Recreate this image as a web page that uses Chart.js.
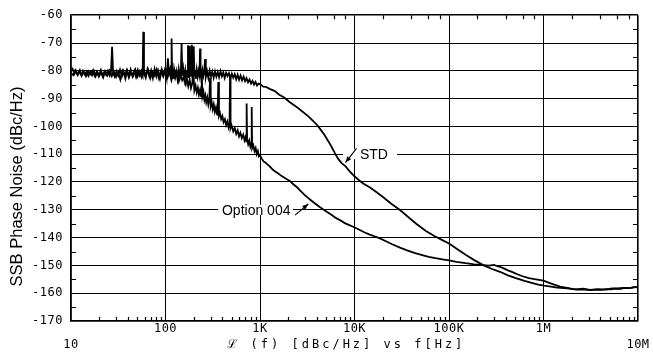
<!DOCTYPE html>
<html><head><meta charset="utf-8">
<script src="https://cdn.jsdelivr.net/npm/chart.js@4/dist/chart.umd.min.js"></script>
<style>html,body{margin:0;padding:0;background:#fff;overflow:hidden}#wrap{width:653px;height:352px;position:relative}</style>
</head><body><div id="wrap"><canvas id="c" width="653" height="352"></canvas></div>
<script>
// ---- tick definitions ----
const xTickValues = [10, 100, 1000, 10000, 100000, 1000000, 10000000];
const xTickLabels = ['10', '100', '1K', '10K', '100K', '1M', '10M'];
const xTickRow    = [2, 1, 1, 1, 1, 1, 2];   // label row under the axis
const yTickMin = -170, yTickMax = -60, yTickStep = 10;

// ---- series: STD ----
const stdFreq = [
  10, 10.4, 10.9, 11.3, 11.8, 12.3, 12.9, 13.4, 14, 14.6,
  15.3, 16, 16.7, 17.4, 18.2, 19, 19.8, 20.7, 21.6, 22.6,
  23.6, 24.6, 25.7, 26.5, 27.2, 27.9, 29, 30.3, 31.6, 33,
  34.5, 36, 37.6, 39.3, 41, 42.8, 44.7, 46.7, 48.8, 51,
  53.2, 55.5, 57.3, 58.2, 59.2, 61.8, 64.5, 67.4, 70.4, 73.5,
  76.7, 80.1, 83.7, 87.4, 91.3, 95.3, 99.5, 103, 106, 109,
  112, 114.5, 116, 117.5, 120, 123, 126.5, 130, 134, 138,
  142, 145.5, 148, 150.5, 154, 158, 162, 166, 169.5, 173,
  175.5, 178.5, 181, 184, 187, 190, 193, 196, 199, 202,
  205, 209, 214, 219, 224, 229, 232, 235, 240, 246,
  252, 257, 262, 267, 275, 284, 293, 303, 313, 323,
  334, 345, 357, 369, 382, 395, 409, 423, 438, 453,
  469, 486, 503, 521, 540, 560, 580, 601, 623, 646,
  670, 695, 720, 747, 775, 804, 834, 865, 897, 930,
  965, 1000, 1080, 1160, 1280, 1420, 1600, 1800, 2070, 2400,
  2870, 3250, 3660, 4000, 4300, 4800, 5300, 5750, 6200, 6700,
  7300, 8000, 8800, 9700, 11000, 12500, 14600, 17000, 20000, 24500,
  30300, 37000, 45000, 57000, 70000, 85000, 100000, 125000, 150000, 185000,
  230000, 285000, 347000, 420000, 520000, 630000, 750000, 880000, 1020000, 1200000,
  1400000, 1780000, 2200000, 2600000, 3100000, 3800000, 4500000, 5300000, 6000000, 7000000,
  8000000, 9000000, 10000000
];
const stdDb = [
  -80.2, -79.3, -81.1, -80.0, -81.5, -80.2, -81.8, -80.0, -81.3, -80.3,
  -81.9, -80.4, -81.6, -79.9, -82.0, -80.5, -81.4, -79.7, -81.8, -80.2,
  -81.5, -80.0, -81.7, -80.4, -71.4, -80.8, -82.1, -80.1, -81.7, -79.6,
  -82.0, -80.2, -82.8, -79.9, -81.6, -79.5, -82.0, -80.1, -82.3, -79.7,
  -81.7, -80.0, -81.5, -66.0, -80.8, -82.5, -79.4, -81.9, -79.8, -82.6,
  -79.3, -82.1, -80.0, -82.8, -79.5, -81.7, -79.2, -82.4, -75.5, -80.9,
  -79.4, -82.0, -68.4, -80.4, -82.9, -79.3, -82.2, -80.1, -83.0, -79.4,
  -82.3, -80.3, -70.0, -81.9, -79.2, -82.7, -79.9, -83.1, -80.2, -70.8,
  -82.6, -79.6, -71.0, -82.1, -80.0, -70.6, -82.8, -79.7, -71.2, -81.6,
  -79.9, -82.9, -79.5, -82.1, -80.0, -81.7, -72.0, -80.4, -82.5, -79.7,
  -81.8, -80.2, -75.8, -82.2, -80.1, -82.6, -79.9, -82.0, -80.3, -82.5,
  -80.2, -82.1, -80.4, -82.3, -80.1, -82.0, -80.6, -82.6, -80.7, -81.9,
  -80.8, -82.7, -81.0, -82.5, -81.2, -83.1, -81.4, -83.2, -81.7, -83.4,
  -82.1, -83.7, -82.6, -84.1, -83.1, -84.6, -83.6, -85.0, -84.0, -85.3,
  -84.6, -84.8, -85.7, -85.8, -86.6, -87.2, -88.6, -89.6, -91.3, -92.8,
  -94.9, -96.4, -98.1, -99.4, -100.8, -103.0, -105.4, -107.5, -109.6, -111.6,
  -113.2, -114.3, -116.0, -117.5, -119.2, -120.6, -122.0, -123.6, -125.4, -127.8,
  -130.1, -132.6, -135.0, -137.6, -139.4, -140.9, -142.1, -144.4, -146.2, -148.1,
  -149.9, -151.3, -152.3, -153.6, -154.7, -155.6, -156.3, -156.9, -157.3, -157.6,
  -158.0, -158.3, -158.6, -158.4, -158.8, -158.5, -158.7, -158.3, -158.4, -158.1,
  -158.2, -157.9, -157.8
];

// ---- series: Option 004 ----
const optFreq = [
  10, 10.6, 11.1, 11.7, 12.4, 13, 13.7, 14.4, 15.2, 16,
  16.9, 17.8, 18.7, 19.7, 20.8, 21.9, 23, 24.3, 25.6, 27,
  28.4, 30, 31.6, 33.3, 35.1, 36.9, 38.9, 41, 43.2, 45.5,
  47.9, 50.5, 53.2, 56, 59, 62.2, 65.5, 69, 72.7, 76.6,
  80.7, 85, 89.6, 94.4, 99.4, 104.7, 110, 115.5, 121, 126.5,
  132, 138, 144, 150, 156, 162, 168, 174, 180, 186,
  192, 197, 202, 208, 214, 220, 226, 232, 238, 242,
  246, 252, 258, 264, 270, 277, 284, 291, 296, 301,
  308, 316, 324, 333, 342, 352, 357, 362, 368, 377,
  388, 400, 412, 425, 438, 451, 465, 476, 482, 488,
  500, 521, 540, 560, 580, 600, 620, 642, 664, 686,
  705, 715, 722, 730, 750, 770, 790, 808, 817, 826,
  850, 875, 900, 925, 950, 975, 1000, 1040, 1090, 1140,
  1180, 1260, 1350, 1450, 1560, 1680, 1800, 1920, 2070, 2250,
  2450, 2650, 2820, 3000, 3200, 3380, 3650, 3950, 4250, 4600,
  5080, 5700, 6400, 7100, 8000, 8800, 9700, 11000, 12500, 14500,
  16500, 18600, 21500, 25000, 30300, 36000, 43000, 51000, 61000, 72000,
  85000, 100000, 120000, 150000, 185000, 230000, 265000, 300000, 325000, 347000,
  375000, 420000, 470000, 520000, 600000, 700000, 830000, 1000000, 1150000, 1300000,
  1500000, 1780000, 2050000, 2300000, 2700000, 3100000, 3600000, 4100000, 4600000, 5200000,
  5800000, 6500000, 7300000, 8200000, 9100000, 10000000
];
const optDb = [
  -80.8, -81.6, -79.8, -81.4, -79.7, -81.7, -80.4, -82.0, -80.1, -81.3,
  -80.0, -81.8, -80.3, -82.1, -80.6, -82.4, -80.2, -81.7, -79.9, -81.9,
  -80.2, -82.2, -80.4, -83.2, -80.0, -81.6, -79.8, -82.5, -80.5, -81.8,
  -79.6, -82.1, -80.2, -82.4, -79.9, -81.5, -79.7, -82.7, -80.4, -81.7,
  -79.5, -82.6, -80.1, -82.0, -79.4, -82.3, -80.3, -83.4, -80.7, -82.5,
  -81.0, -83.8, -81.3, -83.4, -82.2, -84.7, -82.7, -85.5, -83.2, -86.2,
  -84.4, -80.5, -87.0, -85.3, -87.8, -86.1, -88.6, -86.9, -89.2, -81.2,
  -89.1, -87.6, -90.4, -88.9, -91.3, -89.6, -92.2, -90.4, -82.5, -92.6,
  -91.2, -93.8, -92.1, -94.8, -93.2, -95.8, -94.1, -84.0, -96.2, -95.2,
  -97.4, -96.3, -98.5, -97.4, -99.5, -98.2, -100.4, -99.1, -82.3, -100.6,
  -99.6, -101.8, -100.6, -102.7, -101.4, -103.6, -102.3, -104.2, -103.0, -105.0,
  -103.7, -105.4, -91.8, -104.4, -106.4, -105.1, -107.2, -106.0, -93.0, -107.8,
  -106.8, -108.9, -107.8, -110.0, -108.9, -110.8, -110.4, -111.5, -112.6, -113.0,
  -113.5, -114.3, -115.4, -116.2, -116.9, -117.8, -118.4, -119.0, -119.6, -120.8,
  -121.8, -123.0, -123.9, -124.8, -125.6, -126.3, -127.2, -128.1, -128.9, -129.7,
  -130.7, -131.8, -133.0, -133.8, -134.9, -135.5, -136.1, -137.0, -138.0, -138.9,
  -139.6, -140.3, -141.3, -142.4, -143.6, -144.6, -145.5, -146.2, -146.9, -147.4,
  -147.8, -148.2, -148.7, -149.2, -149.6, -149.9, -150.1, -149.8, -150.3, -150.5,
  -151.0, -151.8, -152.4, -153.1, -153.9, -154.6, -155.0, -155.5, -156.3, -156.9,
  -157.6, -158.1, -158.5, -158.7, -158.6, -158.9, -158.7, -158.8, -158.5, -158.6,
  -158.3, -158.4, -158.1, -158.2, -157.8, -157.7
];

// ---- annotation text ----
const yTitle = 'SSB Phase Noise (dBc/Hz)';
const xTitle = '\u2112 (f) [dBc/Hz] vs f[Hz]';
const stdLabel = 'STD';
const optLabel = 'Option 004';

const toPts = (fs, ds) => fs.map((f, i) => ({ x: f, y: ds[i] }));

const MONO = '"DejaVu Sans Mono", "Liberation Mono", monospace';
const SANS = '"Liberation Sans", Arial, Helvetica, sans-serif';

const decor = {
  id: 'decor',
  beforeDraw(chart) {
    chart.ctx.letterSpacing = '0.5px';
  },
  beforeDatasetsDraw(chart) {
    const { ctx, scales: { x, y } } = chart;
    ctx.save();
    ctx.fillStyle = '#fff';
    ctx.fillRect(x.getPixelForValue(7550), y.getPixelForValue(-110) - 5,
      x.getPixelForValue(28200) - x.getPixelForValue(7550), 10);
    ctx.fillRect(x.getPixelForValue(360), y.getPixelForValue(-130) - 5,
      x.getPixelForValue(2230) - x.getPixelForValue(360), 10);
    ctx.restore();
  },
  afterDraw(chart) {
    const { ctx, chartArea: a, scales: { x, y } } = chart;
    ctx.save();
    ctx.letterSpacing = '0px';
    ctx.strokeStyle = '#000';
    ctx.fillStyle = '#000';
    ctx.lineWidth = 1.2;
    ctx.beginPath();
    for (let v = yTickMin + 5; v < yTickMax; v += yTickStep) {
      const p = Math.round(y.getPixelForValue(v)) + 0.5;
      ctx.moveTo(a.left, p); ctx.lineTo(a.left + 5, p);
      ctx.moveTo(a.right - 5, p); ctx.lineTo(a.right, p);
    }
    for (let d = 10; d < 1e7; d *= 10) {
      for (let m = 2; m <= 9; m++) {
        const p = Math.round(x.getPixelForValue(d * m)) + 0.5;
        ctx.moveTo(p, a.bottom); ctx.lineTo(p, a.bottom - 4);
        if (m % 2 === 0) { ctx.moveTo(p, a.top); ctx.lineTo(p, a.top + 4); }
      }
    }
    ctx.stroke();

    const arrow = (f0, v0, f1, v1) => {
      const x0 = x.getPixelForValue(f0), y0 = y.getPixelForValue(v0);
      const x1 = x.getPixelForValue(f1), y1 = y.getPixelForValue(v1);
      ctx.beginPath(); ctx.moveTo(x0, y0); ctx.lineTo(x1, y1);
      ctx.lineWidth = 1.1; ctx.stroke();
      const ang = Math.atan2(y1 - y0, x1 - x0), L = 6, W = 2.4;
      ctx.beginPath();
      ctx.moveTo(x1, y1);
      ctx.lineTo(x1 - L * Math.cos(ang) + W * Math.sin(ang), y1 - L * Math.sin(ang) - W * Math.cos(ang));
      ctx.lineTo(x1 - L * Math.cos(ang) - W * Math.sin(ang), y1 - L * Math.sin(ang) + W * Math.cos(ang));
      ctx.closePath(); ctx.fill();
    };
    arrow(10500, -107.9, 8040, -113.0);
    arrow(2350, -131.9, 3240, -127.9);

    ctx.font = '14px ' + SANS;
    ctx.textAlign = 'left';
    ctx.textBaseline = 'middle';
    ctx.fillText(stdLabel, x.getPixelForValue(11400), y.getPixelForValue(-110) + 0.5);
    ctx.fillText(optLabel, x.getPixelForValue(396), y.getPixelForValue(-130) + 1.5);

    ctx.save();
    ctx.translate(17.5, y.getPixelForValue(-121.6));
    ctx.rotate(-Math.PI / 2);
    ctx.font = '16.5px ' + SANS;
    ctx.textAlign = 'center';
    ctx.textBaseline = 'middle';
    ctx.fillText(yTitle, 0, 0);
    ctx.restore();

    ctx.font = '12px ' + MONO;
    ctx.letterSpacing = '3px';
    ctx.textAlign = 'center';
    ctx.textBaseline = 'middle';
    ctx.fillText(xTitle, x.getPixelForValue(8200), 345);
    ctx.restore();
  }
};

const edgeWidth = (c, n) => (c.index === 0 || c.index === n - 1) ? 1.6 : 1;

new Chart(document.getElementById('c'), {
  type: 'line',
  data: {
    datasets: [
      { label: 'STD', data: toPts(stdFreq, stdDb), borderColor: '#000', borderWidth: 1.8,
        pointRadius: 0, tension: 0, fill: false },
      { label: 'Option 004', data: toPts(optFreq, optDb), borderColor: '#000', borderWidth: 1.8,
        pointRadius: 0, tension: 0, fill: false }
    ]
  },
  options: {
    responsive: false,
    animation: false,
    events: [],
    layout: { padding: { top: 15, right: 15, left: 0, bottom: 0 } },
    plugins: { legend: { display: false }, tooltip: { enabled: false } },
    scales: {
      x: {
        type: 'logarithmic', min: 10, max: 1e7,
        afterBuildTicks: s => { s.ticks = xTickValues.map(v => ({ value: v })); },
        afterFit: s => { s.height = 31; },
        grid: { color: '#000', lineWidth: c => edgeWidth(c, xTickValues.length), drawTicks: false },
        border: { display: true, color: '#000', width: 1.6 },
        ticks: {
          autoSkip: false, maxRotation: 0, minRotation: 0, padding: 0, color: '#000',
          font: { family: MONO, size: 12, lineHeight: '16px' },
          callback: (v) => {
            const i = xTickValues.indexOf(v);
            if (i < 0) return '';
            return xTickRow[i] === 2 ? ['', xTickLabels[i]] : [xTickLabels[i]];
          }
        }
      },
      y: {
        min: yTickMin, max: yTickMax,
        afterFit: s => { s.width = 71; },
        grid: { color: '#000', lineWidth: c => edgeWidth(c, 12), drawTicks: false },
        border: { display: true, color: '#000', width: 1.6 },
        ticks: { stepSize: yTickStep, padding: 8, color: '#000',
          font: { family: MONO, size: 12 } }
      }
    }
  },
  plugins: [decor]
});
</script></body></html>
